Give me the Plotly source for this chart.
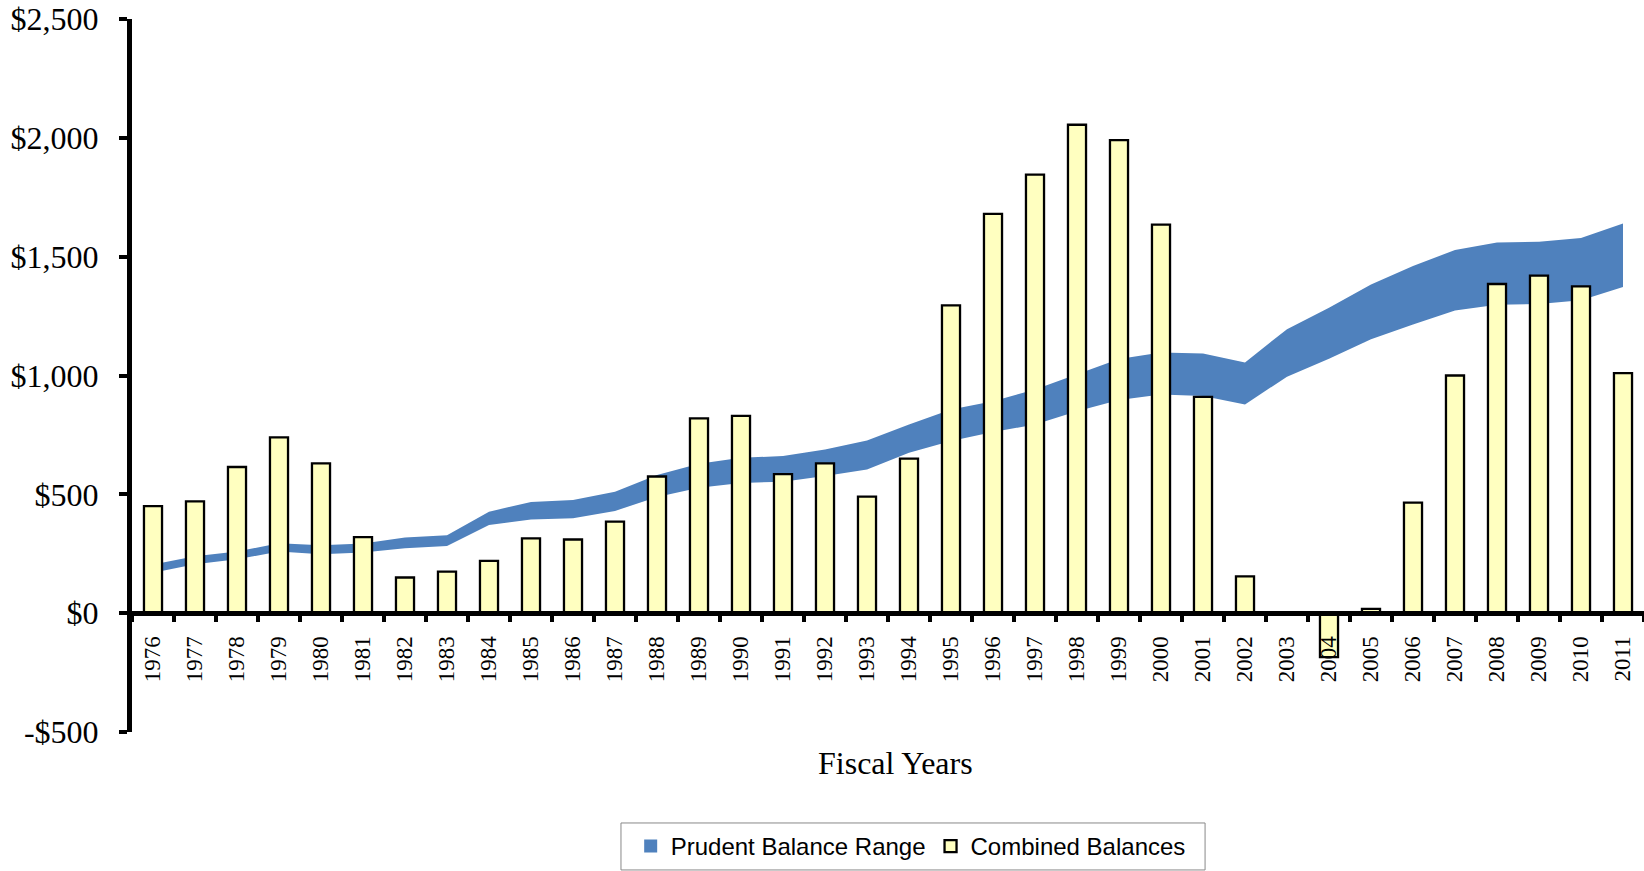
import plotly.graph_objects as go

years = [str(y) for y in range(1976, 2012)]

combined_balances = [450, 470, 615, 740, 630, 320, 150, 175, 220, 315,
                     310, 385, 575, 820, 830, 585, 630, 490, 650, 1295,
                     1680, 1845, 2055, 1990, 1635, 910, 155, 3, -185, 18,
                     465, 1000, 1385, 1420, 1375, 1010]

prudent_upper = [205, 240, 259, 294, 286, 293, 318, 328, 427, 468,
                 476, 511, 581, 629, 654, 661, 689, 727, 794, 857,
                 892, 941, 1005, 1069, 1097, 1093, 1055, 1195, 1285, 1383,
                 1461, 1528, 1560, 1563, 1579, 1640]

prudent_lower = [170, 206, 227, 259, 248, 255, 273, 283, 371, 394,
                 399, 430, 489, 528, 548, 553, 577, 605, 675, 724,
                 762, 794, 850, 897, 920, 914, 878, 995, 1071, 1152,
                 1215, 1274, 1298, 1301, 1317, 1372]

y_tickvals = [-500, 0, 500, 1000, 1500, 2000, 2500]
y_ticktext = ["-$500", "$0", "$500", "$1,000", "$1,500", "$2,000", "$2,500"]

BAND = "#4F81BD"
BAR = "#FFFFC0"
Y_MIN, Y_MAX = -500, 2500

fig = go.Figure()

# legend entry for the band (square swatch)
fig.add_trace(go.Scatter(
    x=[None], y=[None], mode="markers", name="Prudent Balance Range",
    marker=dict(symbol="square", size=13, color=BAND, line=dict(width=0)),
    xaxis="x", yaxis="y", showlegend=True, hoverinfo="skip"))

fig.add_trace(go.Scatter(
    x=years, y=prudent_lower, mode="lines", line=dict(width=0, color=BAND),
    showlegend=False, xaxis="x", yaxis="y", hoverinfo="skip"))
fig.add_trace(go.Scatter(
    x=years, y=prudent_upper, mode="lines", line=dict(width=0, color=BAND),
    fill="tonexty", fillcolor=BAND, showlegend=False,
    xaxis="x", yaxis="y", hoverinfo="skip"))

fig.add_trace(go.Bar(
    x=years, y=combined_balances, name="Combined Balances",
    marker=dict(color=BAR, line=dict(color="black", width=2.3)),
    width=0.43, xaxis="x2", yaxis="y2"))

fig.update_layout(
    width=1644, height=871,
    margin=dict(l=132, r=0, t=19, b=139, autoexpand=False),
    paper_bgcolor="white", plot_bgcolor="white",
    showlegend=True,
    legend=dict(
        orientation="h", x=0.515, xanchor="center", y=-0.1606, yanchor="middle",
        borderwidth=0, bgcolor="rgba(0,0,0,0)",
        font=dict(family="Liberation Sans", size=24, color="black"),
        traceorder="normal", itemsizing="trace",
    ),
    xaxis=dict(
        type="category", categoryorder="array", categoryarray=years,
        range=[-0.5, len(years) - 0.5],
        anchor="free", position=(0 - Y_MIN) / (Y_MAX - Y_MIN),
        showline=True, linecolor="black", linewidth=5,
        ticks="outside", tickson="boundaries", ticklen=6, tickwidth=4,
        tickcolor="black", tickangle=-90, ticklabelstandoff=11,
        ticklabeloverflow="allow", automargin=False,
        tickfont=dict(family="Liberation Serif", size=23, color="black"),
        showgrid=False, zeroline=False, fixedrange=True,
    ),
    yaxis=dict(
        range=[Y_MIN, Y_MAX], tickvals=y_tickvals, ticktext=y_ticktext,
        showline=True, linecolor="black", linewidth=5,
        ticks="outside", ticklen=8, tickwidth=4, tickcolor="black",
        ticklabelstandoff=14, ticklabeloverflow="allow", automargin=False,
        tickfont=dict(family="Liberation Serif", size=32, color="black"),
        showgrid=False, zeroline=False, fixedrange=True,
    ),
    xaxis2=dict(
        type="category", categoryorder="array", categoryarray=years,
        range=[-0.5, len(years) - 0.5], overlaying="x", anchor="y2",
        visible=False, fixedrange=True, automargin=False,
    ),
    yaxis2=dict(
        range=[Y_MIN, Y_MAX], overlaying="y", anchor="x2",
        visible=False, fixedrange=True, automargin=False,
    ),
    shapes=[dict(
        type="rect", xref="paper", yref="paper",
        x0=0.3234, x1=0.7097, y0=-0.1935, y1=-0.1276,
        line=dict(color="#888888", width=1), fillcolor="rgba(0,0,0,0)",
        layer="below",
    )],
    annotations=[dict(
        text="Fiscal Years", xref="paper", yref="paper",
        x=0.505, y=-0.043, xanchor="center", yanchor="middle",
        showarrow=False,
        font=dict(family="Liberation Serif", size=32, color="black"),
    )],
)

fig.write_html(
    "out.html",
    config={"displayModeBar": False, "staticPlot": True},
    post_script="document.body.style.margin='0';document.body.style.overflow='hidden';",
)
